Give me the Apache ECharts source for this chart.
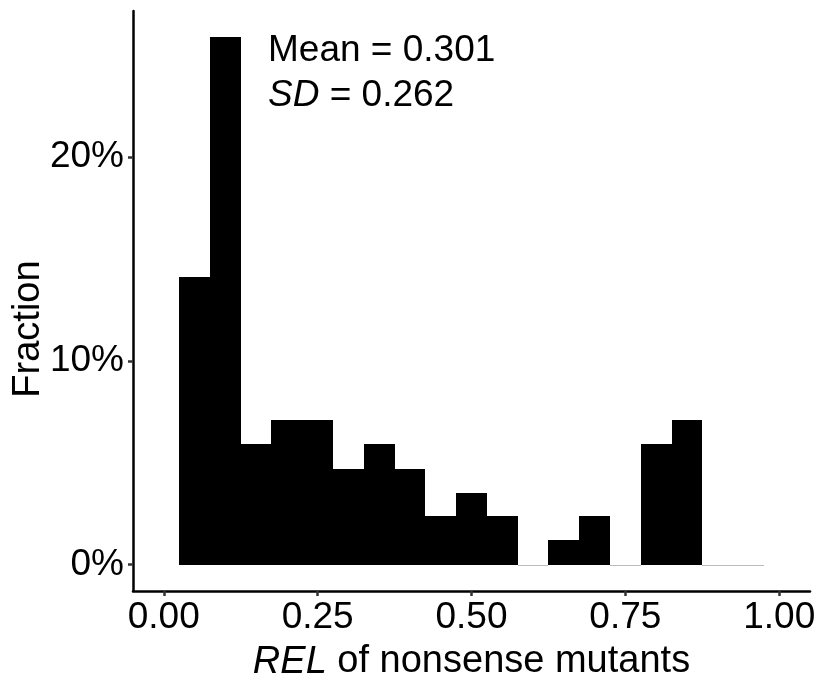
<!DOCTYPE html>
<html>
<head>
<meta charset="utf-8">
<script src="https://cdn.jsdelivr.net/npm/echarts@6/dist/echarts.min.js"></script>
<style>
html,body{margin:0;padding:0;background:#fff;}
#chart{width:827px;height:686px;}
</style>
</head>
<body>
<div id="chart"></div>
<script>
// Histogram bin centres (REL of nonsense mutants), bin width 0.05
const binCenters = [0.05,0.10,0.15,0.20,0.25,0.30,0.35,0.40,0.45,0.50,0.55,0.60,0.65,0.70,0.75,0.80,0.85,0.90,0.95];
// Fraction (%) per bin
const fractions = [14.1,25.9,5.9,7.1,7.1,4.7,5.9,4.7,2.4,3.5,2.4,0,1.2,2.4,0,5.9,7.1,0,0];
const binWidth = 0.05;
const xTicks = [0,0.25,0.5,0.75,1];
const yTicks = [0,10,20];
const meanText = 'Mean = 0.301';
const sdValue = '0.262';

const FONT = '"Liberation Sans", Arial, sans-serif';
const chart = echarts.init(document.getElementById('chart'), null, {renderer:'canvas'});
const data = binCenters.map((c,i)=>[c, fractions[i]]);

chart.setOption({
  animation:false,
  backgroundColor:'#fff',
  grid:{left:133,right:17,top:11,bottom:91,containLabel:false},
  xAxis:{
    type:'value', min:-0.05, max:1.05,
    axisLine:{show:true,onZero:false,lineStyle:{color:'#000',width:2.5}},
    axisTick:{show:true,customValues:xTicks,length:5,lineStyle:{color:'#333',width:2.5}},
    axisLabel:{customValues:xTicks,formatter:v=>Number(v).toFixed(2),color:'#000',fontSize:37,fontFamily:FONT,margin:8},
    splitLine:{show:false},
    name:'{i|REL} of nonsense mutants',
    nameLocation:'middle', nameGap:52,
    nameTextStyle:{color:'#000',fontSize:38,fontFamily:FONT,rich:{i:{fontStyle:'italic',fontSize:38,fontFamily:FONT,color:'#000'}}}
  },
  yAxis:{
    type:'value', min:-1.294, max:27.18,
    axisLine:{show:true,onZero:false,lineStyle:{color:'#000',width:2.5}},
    axisTick:{show:true,customValues:yTicks,length:5,lineStyle:{color:'#333',width:2.5}},
    axisLabel:{customValues:yTicks,formatter:v=>v+'%',color:'#000',fontSize:37,fontFamily:FONT,margin:9},
    splitLine:{show:false}
  },
  graphic:[
    {type:'text',x:29,y:329,rotation:Math.PI/2,
     style:{text:'Fraction',fill:'#000',font:'38px '+FONT,align:'center',verticalAlign:'middle'}},
    {type:'text',x:268,y:51,
     style:{text:meanText,fill:'#000',font:'37px '+FONT,align:'left',verticalAlign:'middle'}},
    {type:'text',x:268,y:96,
     style:{text:'{i|SD}{n| = '+sdValue+'}',fill:'#000',font:'37px '+FONT,align:'left',verticalAlign:'middle',
       rich:{i:{fontStyle:'italic',fontSize:37,fontFamily:FONT,fill:'#000'},n:{fontSize:37,fontFamily:FONT,fill:'#000'}}}}
  ],
  series:[{
    type:'custom',
    data:data,
    renderItem:function(params, api){
      const x = api.value(0), v = api.value(1);
      const p0 = api.coord([x-binWidth/2, 0]);
      const p1 = api.coord([x+binWidth/2, v]);
      const xl = Math.round(p0[0]), xr = Math.round(p1[0]);
      const yb = Math.round(p0[1]), yt = Math.round(p1[1]);
      if(v===0){
        return {type:'line',shape:{x1:xl,y1:yb+0.5,x2:xr,y2:yb+0.5},style:{stroke:'#bbb',lineWidth:1}};
      }
      return {type:'rect',shape:{x:xl,y:yt,width:xr-xl,height:yb-yt},style:{fill:'#000'}};
    }
  }]
});
</script>
</body>
</html>
